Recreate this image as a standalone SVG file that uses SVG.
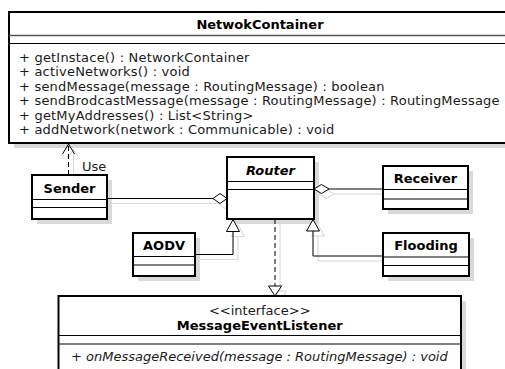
<svg xmlns="http://www.w3.org/2000/svg" width="505" height="369" viewBox="0 0 505 369">
<style>
  .box { fill: #ffffff; stroke: #000000; stroke-width: 2; }
  .shadow { fill: #d9d9d9; }
  .sep { stroke: #000000; stroke-width: 1; }
  .sep2 { stroke: #555555; stroke-width: 1.6; }
  .title { font-family: "DejaVu Sans", sans-serif; font-size: 13px; font-weight: bold; text-anchor: middle; fill: #000; }
  .txt { font-family: "DejaVu Sans", sans-serif; font-size: 13px; fill: #1a1a1a; }
  .op { letter-spacing: 0.2px; }
  .line { fill: none; stroke: #000000; stroke-width: 1; }
  .dash { fill: none; stroke: #000000; stroke-width: 1; stroke-dasharray: 5 3; }
  .head { fill: #ffffff; stroke: #000000; stroke-width: 1; }
  .lshadow { fill: none; stroke: #d6d6d6; stroke-width: 1; }
</style>
<rect width="505" height="369" fill="#ffffff"/>

<!-- box shadows -->
<g id="shadows">
  <rect class="shadow" x="14" y="17" width="503" height="131"/>
  <rect class="shadow" x="37" y="180" width="75" height="44"/>
  <rect class="shadow" x="232" y="162" width="87" height="62"/>
  <rect class="shadow" x="388" y="171" width="85" height="43"/>
  <rect class="shadow" x="138" y="238" width="62" height="43"/>
  <rect class="shadow" x="388" y="238" width="86" height="43"/>
  <rect class="shadow" x="63.5" y="301" width="402.5" height="80"/>
</g>

<!-- connector shadows -->
<g id="connector-shadows">
  <line class="lshadow" x1="73.5" y1="180" x2="73.5" y2="149"/>
  <polyline class="lshadow" points="67.5,159 73.5,149 79.5,159"/>
  <line class="lshadow" x1="112" y1="203.5" x2="218" y2="203.5"/>
  <polygon class="lshadow" points="218,203.5 225,198.5 232,203.5 225,208.5"/>
  <polygon class="lshadow" points="319,194 326.5,189.5 334,194 326.5,198.5"/>
  <line class="lshadow" x1="334" y1="194" x2="388" y2="194"/>
  <polyline class="lshadow" points="200,259.5 238,259.5 238,236.5"/>
  <polygon class="lshadow" points="238,224.5 231.5,236.5 244.5,236.5"/>
  <polyline class="lshadow" points="388,261 318,261 318,236"/>
  <polygon class="lshadow" points="318,224.5 311.5,236 324.5,236"/>
  <line class="lshadow" x1="280" y1="224" x2="280" y2="291"/>
  <polygon class="lshadow" points="280,301 273.5,291 286.5,291"/>
</g>

<!-- connectors -->
<g id="connectors">
  <line class="dash" x1="68.5" y1="175" x2="68.5" y2="145"/>
  <polyline class="line" points="62.5,154 68.5,144 74.5,154"/>
  <text class="txt" x="82" y="170.5">Use</text>

  <line class="line" x1="107" y1="198.5" x2="213" y2="198.5"/>
  <polygon class="head" points="213,198.5 220,193.5 227,198.5 220,203.5"/>

  <polygon class="head" points="314,189 321.5,184.5 329,189 321.5,193.5"/>
  <line class="line" x1="329" y1="189" x2="383" y2="189"/>

  <polyline class="line" points="195,254.5 233,254.5 233,231.5"/>
  <polygon class="head" points="233,219.5 226.5,231.5 239.5,231.5"/>

  <polyline class="line" points="383,256 313,256 313,231"/>
  <polygon class="head" points="313,219.5 306.5,231 319.5,231"/>

  <line class="dash" x1="275" y1="219" x2="275" y2="286"/>
  <polygon class="head" points="275,296 268.5,286 281.5,286"/>
</g>

<!-- NetwokContainer -->
<g id="NetwokContainer">
  <rect class="box" x="9" y="12" width="503" height="131"/>
  <text class="title" x="260" y="28.5">NetwokContainer</text>
  <line class="sep2" x1="9" y1="35.5" x2="512" y2="35.5"/>
  <line class="sep" x1="9" y1="43.5" x2="512" y2="43.5"/>
  <text class="txt op" x="19" y="61.5">+ getInstace() : NetworkContainer</text>
  <text class="txt op" x="19" y="76">+ activeNetworks() : void</text>
  <text class="txt op" x="19" y="90.5">+ sendMessage(message : RoutingMessage) : boolean</text>
  <text class="txt op" x="19" y="105">+ sendBrodcastMessage(message : RoutingMessage) : RoutingMessage</text>
  <text class="txt op" x="19" y="119.5">+ getMyAddresses() : List&lt;String&gt;</text>
  <text class="txt op" x="19" y="134">+ addNetwork(network : Communicable) : void</text>
</g>

<!-- Sender -->
<g id="Sender">
  <rect class="box" x="32" y="175" width="75" height="44"/>
  <text class="title" x="69.5" y="192.5">Sender</text>
  <line class="sep" x1="32" y1="199.5" x2="107" y2="199.5"/>
  <line class="sep" x1="32" y1="207.5" x2="107" y2="207.5"/>
</g>

<!-- Router -->
<g id="Router">
  <rect class="box" x="227" y="157" width="87" height="62"/>
  <text class="title" x="270.5" y="174.5" font-style="italic">Router</text>
  <line class="sep" x1="227" y1="181.5" x2="314" y2="181.5"/>
  <line class="sep" x1="227" y1="189.5" x2="314" y2="189.5"/>
</g>

<!-- Receiver -->
<g id="Receiver">
  <rect class="box" x="383" y="166" width="85" height="43"/>
  <text class="title" x="425.5" y="183">Receiver</text>
  <line class="sep" x1="383" y1="189.5" x2="468" y2="189.5"/>
  <line class="sep" x1="383" y1="199" x2="468" y2="199"/>
</g>

<!-- AODV -->
<g id="AODV">
  <rect class="box" x="133" y="233" width="62" height="43"/>
  <text class="title" x="164" y="250">AODV</text>
  <line class="sep" x1="133" y1="256.5" x2="195" y2="256.5"/>
  <line class="sep" x1="133" y1="265" x2="195" y2="265"/>
</g>

<!-- Flooding -->
<g id="Flooding">
  <rect class="box" x="383" y="233" width="86" height="43"/>
  <text class="title" x="426" y="250">Flooding</text>
  <line class="sep" x1="383" y1="257" x2="469" y2="257"/>
  <line class="sep" x1="383" y1="265.5" x2="469" y2="265.5"/>
</g>

<!-- MessageEventListener -->
<g id="MessageEventListener">
  <rect class="box" x="58.5" y="296" width="402.5" height="80"/>
  <text class="txt" x="259.75" y="315" text-anchor="middle">&lt;&lt;interface&gt;&gt;</text>
  <text class="title" x="259.75" y="330">MessageEventListener</text>
  <line class="sep" x1="58.5" y1="335.5" x2="461" y2="335.5"/>
  <line class="sep" x1="58.5" y1="344" x2="461" y2="344"/>
  <text class="txt" x="71" y="361" font-style="italic">+ onMessageReceived(message : RoutingMessage) : void</text>
</g>
</svg>
